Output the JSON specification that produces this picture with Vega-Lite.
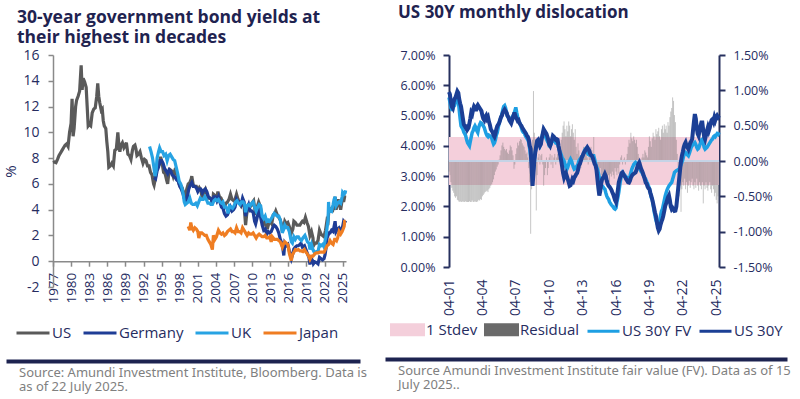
{
"$schema": "https://vega.github.io/schema/vega-lite/v6.json",
"background": "white",
"padding": {"left": 3, "top": 4, "right": 0, "bottom": 0},
"config": {"font": "Open Sans", "view": {"stroke": null}, "title": {"color": "#1f2350", "fontWeight": "bold", "font": "Open Sans"}, "axis": {"labelFont": "Open Sans", "titleFont": "Open Sans", "grid": false, "labelOverlap": false}, "legend": {"labelFont": "Open Sans"}},
"datasets": {
"US": [{"d":"1977-01","v":7.65},{"d":"1977-04","v":7.7},{"d":"1977-07","v":7.65},{"d":"1977-10","v":7.9},{"d":"1978-01","v":8.2},{"d":"1978-04","v":8.4},{"d":"1978-07","v":8.6},{"d":"1978-10","v":8.8},{"d":"1979-01","v":9.0},{"d":"1979-04","v":9.1},{"d":"1979-07","v":8.9},{"d":"1979-10","v":10.0},{"d":"1980-01","v":10.7},{"d":"1980-03","v":12.6},{"d":"1980-05","v":9.7},{"d":"1980-07","v":10.3},{"d":"1980-10","v":12.0},{"d":"1980-12","v":12.5},{"d":"1981-03","v":12.8},{"d":"1981-06","v":13.2},{"d":"1981-09","v":15.2},{"d":"1981-11","v":13.3},{"d":"1982-01","v":14.2},{"d":"1982-04","v":13.9},{"d":"1982-07","v":13.5},{"d":"1982-09","v":12.0},{"d":"1982-11","v":10.5},{"d":"1983-01","v":10.6},{"d":"1983-04","v":10.5},{"d":"1983-07","v":11.5},{"d":"1983-10","v":11.8},{"d":"1984-01","v":11.9},{"d":"1984-04","v":12.8},{"d":"1984-06","v":13.8},{"d":"1984-08","v":12.8},{"d":"1984-10","v":12.3},{"d":"1985-01","v":11.7},{"d":"1985-03","v":11.8},{"d":"1985-05","v":10.9},{"d":"1985-07","v":10.5},{"d":"1985-10","v":10.3},{"d":"1985-12","v":9.3},{"d":"1986-02","v":8.5},{"d":"1986-04","v":7.3},{"d":"1986-07","v":7.4},{"d":"1986-10","v":7.6},{"d":"1987-01","v":7.4},{"d":"1987-04","v":8.6},{"d":"1987-07","v":8.7},{"d":"1987-10","v":10.0},{"d":"1987-12","v":9.0},{"d":"1988-02","v":8.5},{"d":"1988-04","v":9.0},{"d":"1988-07","v":9.2},{"d":"1988-10","v":8.8},{"d":"1989-01","v":9.0},{"d":"1989-03","v":9.2},{"d":"1989-06","v":8.3},{"d":"1989-09","v":8.2},{"d":"1989-12","v":7.9},{"d":"1990-03","v":8.6},{"d":"1990-05","v":8.9},{"d":"1990-08","v":9.0},{"d":"1990-10","v":8.7},{"d":"1990-12","v":8.2},{"d":"1991-03","v":8.3},{"d":"1991-06","v":8.5},{"d":"1991-09","v":8.0},{"d":"1991-12","v":7.6},{"d":"1992-03","v":7.9},{"d":"1992-06","v":7.8},{"d":"1992-09","v":7.4},{"d":"1992-12","v":7.4},{"d":"1993-03","v":6.9},{"d":"1993-06","v":6.7},{"d":"1993-09","v":6.0},{"d":"1993-10","v":5.9},{"d":"1993-12","v":6.3},{"d":"1994-03","v":7.1},{"d":"1994-05","v":7.4},{"d":"1994-08","v":7.5},{"d":"1994-11","v":8.1},{"d":"1995-02","v":7.6},{"d":"1995-05","v":6.9},{"d":"1995-08","v":6.8},{"d":"1995-11","v":6.3},{"d":"1996-01","v":6.0},{"d":"1996-03","v":6.7},{"d":"1996-06","v":7.1},{"d":"1996-09","v":7.0},{"d":"1996-12","v":6.6},{"d":"1997-03","v":7.0},{"d":"1997-06","v":6.8},{"d":"1997-09","v":6.5},{"d":"1997-12","v":6.0},{"d":"1998-03","v":5.9},{"d":"1998-06","v":5.7},{"d":"1998-08","v":5.4},{"d":"1998-10","v":5.0},{"d":"1998-12","v":5.1},{"d":"1999-03","v":5.6},{"d":"1999-06","v":6.0},{"d":"1999-09","v":6.1},{"d":"1999-12","v":6.4},{"d":"2000-01","v":6.6},{"d":"2000-04","v":5.9},{"d":"2000-07","v":5.8},{"d":"2000-10","v":5.8},{"d":"2001-01","v":5.5},{"d":"2001-04","v":5.7},{"d":"2001-07","v":5.5},{"d":"2001-10","v":4.9},{"d":"2002-01","v":5.4},{"d":"2002-04","v":5.6},{"d":"2002-07","v":5.2},{"d":"2002-10","v":4.9},{"d":"2003-01","v":4.9},{"d":"2003-04","v":4.8},{"d":"2003-06","v":4.4},{"d":"2003-08","v":5.2},{"d":"2003-11","v":5.1},{"d":"2004-02","v":4.8},{"d":"2004-05","v":5.4},{"d":"2004-08","v":5.0},{"d":"2004-11","v":4.9},{"d":"2005-02","v":4.6},{"d":"2005-05","v":4.4},{"d":"2005-06","v":4.2},{"d":"2005-09","v":4.5},{"d":"2005-12","v":4.6},{"d":"2006-03","v":4.8},{"d":"2006-06","v":5.2},{"d":"2006-09","v":4.8},{"d":"2006-12","v":4.7},{"d":"2007-03","v":4.8},{"d":"2007-06","v":5.2},{"d":"2007-09","v":4.8},{"d":"2007-12","v":4.5},{"d":"2008-03","v":4.3},{"d":"2008-06","v":4.6},{"d":"2008-09","v":4.3},{"d":"2008-12","v":2.8},{"d":"2009-02","v":3.6},{"d":"2009-05","v":4.3},{"d":"2009-08","v":4.2},{"d":"2009-11","v":4.3},{"d":"2010-02","v":4.6},{"d":"2010-04","v":4.7},{"d":"2010-08","v":3.6},{"d":"2010-11","v":4.2},{"d":"2011-02","v":4.6},{"d":"2011-05","v":4.3},{"d":"2011-08","v":3.6},{"d":"2011-10","v":3.0},{"d":"2011-12","v":2.9},{"d":"2012-03","v":3.3},{"d":"2012-07","v":2.5},{"d":"2012-10","v":2.9},{"d":"2013-01","v":3.1},{"d":"2013-04","v":2.9},{"d":"2013-07","v":3.6},{"d":"2013-10","v":3.7},{"d":"2013-12","v":3.9},{"d":"2014-03","v":3.6},{"d":"2014-06","v":3.4},{"d":"2014-09","v":3.2},{"d":"2014-12","v":2.8},{"d":"2015-01","v":2.3},{"d":"2015-04","v":2.7},{"d":"2015-06","v":3.1},{"d":"2015-09","v":2.9},{"d":"2015-12","v":3.0},{"d":"2016-03","v":2.7},{"d":"2016-07","v":2.2},{"d":"2016-10","v":2.5},{"d":"2016-12","v":3.1},{"d":"2017-03","v":3.0},{"d":"2017-06","v":2.8},{"d":"2017-09","v":2.8},{"d":"2017-12","v":2.8},{"d":"2018-03","v":3.0},{"d":"2018-05","v":3.1},{"d":"2018-08","v":3.0},{"d":"2018-11","v":3.4},{"d":"2019-02","v":3.0},{"d":"2019-05","v":2.7},{"d":"2019-08","v":2.0},{"d":"2019-11","v":2.3},{"d":"2020-02","v":1.8},{"d":"2020-03","v":1.2},{"d":"2020-06","v":1.4},{"d":"2020-09","v":1.4},{"d":"2020-12","v":1.6},{"d":"2021-03","v":2.4},{"d":"2021-06","v":2.1},{"d":"2021-09","v":2.0},{"d":"2021-12","v":1.9},{"d":"2022-03","v":2.4},{"d":"2022-06","v":3.2},{"d":"2022-08","v":3.1},{"d":"2022-10","v":4.2},{"d":"2022-12","v":3.9},{"d":"2023-02","v":3.9},{"d":"2023-05","v":3.9},{"d":"2023-08","v":4.3},{"d":"2023-10","v":5.0},{"d":"2023-12","v":4.0},{"d":"2024-02","v":4.4},{"d":"2024-04","v":4.8},{"d":"2024-06","v":4.5},{"d":"2024-09","v":4.0},{"d":"2024-11","v":4.5},{"d":"2025-01","v":4.9},{"d":"2025-03","v":4.6},{"d":"2025-05","v":5.0},{"d":"2025-07","v":4.95}],
"DE": [{"d":"1993-10","v":6.5},{"d":"1994-01","v":6.4},{"d":"1994-04","v":7.0},{"d":"1994-07","v":7.3},{"d":"1994-10","v":7.8},{"d":"1995-01","v":7.8},{"d":"1995-04","v":7.6},{"d":"1995-07","v":7.2},{"d":"1995-10","v":7.0},{"d":"1996-01","v":6.8},{"d":"1996-04","v":7.1},{"d":"1996-07","v":7.0},{"d":"1996-10","v":6.7},{"d":"1997-01","v":6.6},{"d":"1997-04","v":6.5},{"d":"1997-07","v":6.3},{"d":"1997-10","v":6.2},{"d":"1998-01","v":5.8},{"d":"1998-04","v":5.6},{"d":"1998-07","v":5.3},{"d":"1998-10","v":4.9},{"d":"1999-01","v":4.7},{"d":"1999-04","v":4.9},{"d":"1999-07","v":5.6},{"d":"1999-10","v":5.9},{"d":"2000-01","v":6.1},{"d":"2000-04","v":5.8},{"d":"2000-07","v":5.8},{"d":"2000-10","v":5.7},{"d":"2001-01","v":5.4},{"d":"2001-04","v":5.6},{"d":"2001-07","v":5.6},{"d":"2001-10","v":5.3},{"d":"2002-01","v":5.5},{"d":"2002-04","v":5.6},{"d":"2002-07","v":5.4},{"d":"2002-10","v":5.0},{"d":"2003-01","v":4.9},{"d":"2003-04","v":4.8},{"d":"2003-06","v":4.5},{"d":"2003-09","v":5.0},{"d":"2003-12","v":5.0},{"d":"2004-03","v":4.7},{"d":"2004-06","v":5.0},{"d":"2004-09","v":4.6},{"d":"2004-12","v":4.2},{"d":"2005-03","v":4.1},{"d":"2005-06","v":3.7},{"d":"2005-09","v":3.5},{"d":"2005-12","v":3.6},{"d":"2006-03","v":3.9},{"d":"2006-06","v":4.2},{"d":"2006-09","v":3.9},{"d":"2006-12","v":4.0},{"d":"2007-03","v":4.2},{"d":"2007-06","v":4.8},{"d":"2007-09","v":4.6},{"d":"2007-12","v":4.6},{"d":"2008-03","v":4.4},{"d":"2008-06","v":4.9},{"d":"2008-09","v":4.6},{"d":"2008-12","v":3.5},{"d":"2009-03","v":4.1},{"d":"2009-06","v":4.4},{"d":"2009-09","v":3.9},{"d":"2009-12","v":3.9},{"d":"2010-03","v":3.8},{"d":"2010-06","v":3.1},{"d":"2010-08","v":2.9},{"d":"2010-11","v":3.4},{"d":"2011-02","v":3.9},{"d":"2011-05","v":3.6},{"d":"2011-09","v":2.8},{"d":"2011-12","v":2.4},{"d":"2012-03","v":2.5},{"d":"2012-06","v":2.1},{"d":"2012-09","v":2.3},{"d":"2012-12","v":2.2},{"d":"2013-03","v":2.3},{"d":"2013-06","v":2.6},{"d":"2013-09","v":2.8},{"d":"2013-12","v":2.7},{"d":"2014-03","v":2.5},{"d":"2014-06","v":2.2},{"d":"2014-09","v":1.7},{"d":"2014-12","v":1.4},{"d":"2015-02","v":1.0},{"d":"2015-04","v":0.45},{"d":"2015-06","v":1.4},{"d":"2015-09","v":1.2},{"d":"2015-12","v":1.3},{"d":"2016-03","v":0.8},{"d":"2016-07","v":0.2},{"d":"2016-10","v":0.6},{"d":"2016-12","v":0.95},{"d":"2017-03","v":1.1},{"d":"2017-06","v":1.2},{"d":"2017-09","v":1.2},{"d":"2017-12","v":1.3},{"d":"2018-02","v":1.4},{"d":"2018-05","v":1.1},{"d":"2018-09","v":1.2},{"d":"2018-12","v":0.9},{"d":"2019-03","v":0.6},{"d":"2019-06","v":0.3},{"d":"2019-08","v":-0.25},{"d":"2019-11","v":0.2},{"d":"2020-02","v":0.0},{"d":"2020-03","v":-0.2},{"d":"2020-06","v":-0.05},{"d":"2020-09","v":-0.1},{"d":"2020-12","v":-0.2},{"d":"2021-03","v":0.3},{"d":"2021-06","v":0.2},{"d":"2021-09","v":0.1},{"d":"2021-12","v":0.2},{"d":"2022-02","v":0.5},{"d":"2022-05","v":1.3},{"d":"2022-06","v":1.8},{"d":"2022-09","v":2.1},{"d":"2022-10","v":2.2},{"d":"2022-12","v":2.2},{"d":"2023-03","v":2.4},{"d":"2023-06","v":2.3},{"d":"2023-10","v":3.1},{"d":"2023-12","v":2.3},{"d":"2024-03","v":2.5},{"d":"2024-06","v":2.6},{"d":"2024-09","v":2.4},{"d":"2024-12","v":2.5},{"d":"2025-03","v":3.1},{"d":"2025-05","v":3.0},{"d":"2025-07","v":3.15}],
"UK": [{"d":"1993-01","v":8.9},{"d":"1993-04","v":8.5},{"d":"1993-07","v":8.0},{"d":"1993-10","v":7.2},{"d":"1993-12","v":6.6},{"d":"1994-02","v":7.0},{"d":"1994-04","v":8.0},{"d":"1994-07","v":8.5},{"d":"1994-09","v":8.8},{"d":"1994-12","v":8.5},{"d":"1995-03","v":8.5},{"d":"1995-06","v":8.2},{"d":"1995-09","v":8.3},{"d":"1995-12","v":7.8},{"d":"1996-03","v":8.2},{"d":"1996-06","v":8.3},{"d":"1996-09","v":8.1},{"d":"1996-12","v":7.9},{"d":"1997-03","v":7.8},{"d":"1997-06","v":7.3},{"d":"1997-09","v":6.8},{"d":"1997-12","v":6.2},{"d":"1998-03","v":6.0},{"d":"1998-06","v":5.6},{"d":"1998-08","v":5.2},{"d":"1998-10","v":4.6},{"d":"1998-12","v":4.4},{"d":"1999-03","v":4.5},{"d":"1999-06","v":4.6},{"d":"1999-09","v":4.9},{"d":"1999-12","v":4.5},{"d":"2000-03","v":4.4},{"d":"2000-06","v":4.4},{"d":"2000-09","v":4.5},{"d":"2000-12","v":4.3},{"d":"2001-03","v":4.6},{"d":"2001-06","v":4.9},{"d":"2001-09","v":4.8},{"d":"2001-12","v":4.8},{"d":"2002-03","v":5.0},{"d":"2002-06","v":4.8},{"d":"2002-09","v":4.5},{"d":"2002-12","v":4.5},{"d":"2003-03","v":4.4},{"d":"2003-06","v":4.4},{"d":"2003-09","v":4.7},{"d":"2003-12","v":4.8},{"d":"2004-03","v":4.7},{"d":"2004-06","v":4.8},{"d":"2004-09","v":4.6},{"d":"2004-12","v":4.5},{"d":"2005-03","v":4.6},{"d":"2005-06","v":4.2},{"d":"2005-09","v":4.2},{"d":"2005-12","v":4.0},{"d":"2006-01","v":3.7},{"d":"2006-04","v":4.3},{"d":"2006-07","v":4.2},{"d":"2006-10","v":4.1},{"d":"2007-01","v":4.3},{"d":"2007-04","v":4.6},{"d":"2007-07","v":4.7},{"d":"2007-10","v":4.5},{"d":"2008-01","v":4.4},{"d":"2008-04","v":4.6},{"d":"2008-07","v":4.6},{"d":"2008-10","v":4.4},{"d":"2008-12","v":3.8},{"d":"2009-03","v":4.3},{"d":"2009-06","v":4.4},{"d":"2009-09","v":4.3},{"d":"2009-12","v":4.5},{"d":"2010-03","v":4.6},{"d":"2010-06","v":4.2},{"d":"2010-09","v":3.9},{"d":"2010-12","v":4.2},{"d":"2011-03","v":4.4},{"d":"2011-06","v":4.3},{"d":"2011-09","v":3.5},{"d":"2011-12","v":3.3},{"d":"2012-03","v":3.5},{"d":"2012-06","v":3.1},{"d":"2012-09","v":3.2},{"d":"2012-12","v":3.1},{"d":"2013-03","v":3.3},{"d":"2013-06","v":3.5},{"d":"2013-09","v":3.7},{"d":"2013-12","v":3.6},{"d":"2014-03","v":3.5},{"d":"2014-06","v":3.5},{"d":"2014-09","v":3.2},{"d":"2014-12","v":2.5},{"d":"2015-01","v":2.2},{"d":"2015-04","v":2.5},{"d":"2015-06","v":2.8},{"d":"2015-09","v":2.6},{"d":"2015-12","v":2.6},{"d":"2016-03","v":2.3},{"d":"2016-07","v":1.5},{"d":"2016-09","v":1.4},{"d":"2016-12","v":1.9},{"d":"2017-03","v":1.7},{"d":"2017-06","v":1.9},{"d":"2017-09","v":1.9},{"d":"2017-12","v":1.7},{"d":"2018-03","v":1.6},{"d":"2018-06","v":1.8},{"d":"2018-10","v":2.0},{"d":"2018-12","v":1.8},{"d":"2019-03","v":1.5},{"d":"2019-06","v":1.4},{"d":"2019-08","v":0.9},{"d":"2019-11","v":1.3},{"d":"2020-02","v":0.9},{"d":"2020-03","v":0.8},{"d":"2020-06","v":0.6},{"d":"2020-09","v":0.75},{"d":"2020-12","v":0.75},{"d":"2021-03","v":1.3},{"d":"2021-06","v":1.2},{"d":"2021-09","v":1.3},{"d":"2021-12","v":1.1},{"d":"2022-02","v":1.6},{"d":"2022-04","v":1.9},{"d":"2022-06","v":2.6},{"d":"2022-08","v":3.2},{"d":"2022-09","v":4.6},{"d":"2022-10","v":3.9},{"d":"2022-12","v":4.0},{"d":"2023-03","v":3.9},{"d":"2023-06","v":4.4},{"d":"2023-08","v":4.8},{"d":"2023-10","v":5.0},{"d":"2023-12","v":4.3},{"d":"2024-03","v":4.5},{"d":"2024-06","v":4.6},{"d":"2024-09","v":4.5},{"d":"2024-12","v":5.0},{"d":"2025-01","v":5.35},{"d":"2025-04","v":5.2},{"d":"2025-06","v":5.3},{"d":"2025-07","v":5.5}],
"JP": [{"d":"1999-06","v":2.7},{"d":"1999-09","v":2.4},{"d":"1999-11","v":3.0},{"d":"2000-01","v":2.6},{"d":"2000-04","v":2.4},{"d":"2000-07","v":2.6},{"d":"2000-10","v":2.5},{"d":"2001-01","v":2.3},{"d":"2001-03","v":1.8},{"d":"2001-06","v":2.2},{"d":"2001-09","v":2.2},{"d":"2001-12","v":2.1},{"d":"2002-03","v":2.0},{"d":"2002-06","v":2.0},{"d":"2002-09","v":1.7},{"d":"2002-12","v":1.5},{"d":"2003-03","v":1.3},{"d":"2003-06","v":0.9},{"d":"2003-08","v":2.0},{"d":"2003-11","v":1.7},{"d":"2004-02","v":1.9},{"d":"2004-06","v":2.4},{"d":"2004-09","v":2.2},{"d":"2004-12","v":2.1},{"d":"2005-03","v":2.2},{"d":"2005-06","v":2.0},{"d":"2005-09","v":2.1},{"d":"2005-12","v":2.3},{"d":"2006-03","v":2.4},{"d":"2006-06","v":2.5},{"d":"2006-09","v":2.3},{"d":"2006-12","v":2.3},{"d":"2007-03","v":2.2},{"d":"2007-06","v":2.6},{"d":"2007-09","v":2.3},{"d":"2007-12","v":2.3},{"d":"2008-03","v":2.2},{"d":"2008-06","v":2.6},{"d":"2008-09","v":2.4},{"d":"2008-12","v":2.2},{"d":"2009-03","v":2.0},{"d":"2009-06","v":2.2},{"d":"2009-09","v":2.1},{"d":"2009-12","v":2.1},{"d":"2010-03","v":2.2},{"d":"2010-06","v":2.0},{"d":"2010-09","v":1.8},{"d":"2010-12","v":2.0},{"d":"2011-03","v":2.1},{"d":"2011-06","v":2.0},{"d":"2011-09","v":1.9},{"d":"2011-12","v":1.9},{"d":"2012-03","v":2.0},{"d":"2012-06","v":1.8},{"d":"2012-09","v":1.8},{"d":"2012-12","v":1.9},{"d":"2013-03","v":1.5},{"d":"2013-05","v":1.9},{"d":"2013-09","v":1.7},{"d":"2013-12","v":1.7},{"d":"2014-03","v":1.7},{"d":"2014-06","v":1.6},{"d":"2014-09","v":1.5},{"d":"2014-12","v":1.2},{"d":"2015-01","v":1.1},{"d":"2015-04","v":1.4},{"d":"2015-06","v":1.5},{"d":"2015-09","v":1.4},{"d":"2015-12","v":1.3},{"d":"2016-03","v":0.6},{"d":"2016-07","v":0.05},{"d":"2016-09","v":0.5},{"d":"2016-12","v":0.7},{"d":"2017-03","v":0.9},{"d":"2017-06","v":0.85},{"d":"2017-09","v":0.9},{"d":"2017-12","v":0.8},{"d":"2018-03","v":0.8},{"d":"2018-06","v":0.75},{"d":"2018-09","v":0.9},{"d":"2018-12","v":0.7},{"d":"2019-03","v":0.55},{"d":"2019-06","v":0.35},{"d":"2019-08","v":0.15},{"d":"2019-11","v":0.4},{"d":"2020-02","v":0.4},{"d":"2020-03","v":0.45},{"d":"2020-06","v":0.6},{"d":"2020-09","v":0.65},{"d":"2020-12","v":0.65},{"d":"2021-03","v":0.7},{"d":"2021-06","v":0.7},{"d":"2021-09","v":0.7},{"d":"2021-12","v":0.7},{"d":"2022-03","v":0.95},{"d":"2022-06","v":1.2},{"d":"2022-09","v":1.3},{"d":"2022-12","v":1.6},{"d":"2023-03","v":1.4},{"d":"2023-06","v":1.3},{"d":"2023-09","v":1.7},{"d":"2023-11","v":1.7},{"d":"2024-01","v":1.6},{"d":"2024-03","v":1.8},{"d":"2024-06","v":2.3},{"d":"2024-09","v":2.1},{"d":"2024-12","v":2.3},{"d":"2025-02","v":2.5},{"d":"2025-04","v":2.7},{"d":"2025-05","v":3.1},{"d":"2025-07","v":3.1}],
"us30": [
{"d":"2001-04","u":5.78,"f":5.6,"r":-0.15},{"d":"2001-05","u":5.7,"f":5.45,"r":-0.2},{"d":"2001-06","u":5.45,"f":5.25,"r":-0.3},{"d":"2001-07","u":5.3,"f":5.2,"r":-0.38},{"d":"2001-08","u":5.25,"f":5.2,"r":-0.42},{"d":"2001-09","u":5.45,"f":5.3,"r":-0.45},{"d":"2001-10","u":5.55,"f":5.33,"r":-0.5},{"d":"2001-11","u":5.6,"f":5.45,"r":-0.52},{"d":"2001-12","u":5.7,"f":5.6,"r":-0.5},
{"d":"2002-01","u":5.8,"f":5.66,"r":-0.55},{"d":"2002-02","u":5.75,"f":5.5,"r":-0.56},{"d":"2002-03","u":5.55,"f":5.2,"r":-0.58},{"d":"2002-04","u":5.4,"f":4.9,"r":-0.57},{"d":"2002-05","u":5.3,"f":4.66,"r":-0.58},{"d":"2002-06","u":5.1,"f":4.6,"r":-0.58},{"d":"2002-07","u":4.9,"f":4.55,"r":-0.57},{"d":"2002-08","u":4.7,"f":4.45,"r":-0.58},{"d":"2002-09","u":4.65,"f":4.4,"r":-0.58},{"d":"2002-10","u":4.6,"f":4.33,"r":-0.57},{"d":"2002-11","u":4.7,"f":4.2,"r":-0.58},{"d":"2002-12","u":4.55,"f":4.1,"r":-0.58},
{"d":"2003-01","u":4.6,"f":4.05,"r":-0.58},{"d":"2003-02","u":4.75,"f":4.0,"r":-0.57},{"d":"2003-03","u":4.9,"f":4.15,"r":-0.58},{"d":"2003-04","u":5.1,"f":4.3,"r":-0.58},{"d":"2003-05","u":5.05,"f":4.44,"r":-0.56},{"d":"2003-06","u":5.2,"f":4.5,"r":-0.58},{"d":"2003-07","u":5.3,"f":4.6,"r":-0.58},{"d":"2003-08","u":5.25,"f":4.66,"r":-0.57},{"d":"2003-09","u":5.15,"f":4.6,"r":-0.58},{"d":"2003-10","u":5.3,"f":4.5,"r":-0.58},{"d":"2003-11","u":5.35,"f":4.44,"r":-0.57},{"d":"2003-12","u":5.3,"f":4.6,"r":-0.55},
{"d":"2004-01","u":5.25,"f":4.7,"r":-0.56},{"d":"2004-02","u":5.2,"f":4.77,"r":-0.54},{"d":"2004-03","u":5.15,"f":4.75,"r":-0.55},{"d":"2004-04","u":5.0,"f":4.7,"r":-0.5},{"d":"2004-05","u":4.9,"f":4.66,"r":-0.48},{"d":"2004-06","u":4.85,"f":4.6,"r":-0.46},{"d":"2004-07","u":4.95,"f":4.5,"r":-0.44},{"d":"2004-08","u":5.0,"f":4.4,"r":-0.43},{"d":"2004-09","u":4.9,"f":4.33,"r":-0.42},{"d":"2004-10","u":4.95,"f":4.3,"r":-0.44},{"d":"2004-11","u":4.8,"f":4.35,"r":-0.4},{"d":"2004-12","u":4.7,"f":4.33,"r":-0.38},
{"d":"2005-01","u":4.55,"f":4.3,"r":-0.35},{"d":"2005-02","u":4.5,"f":4.25,"r":-0.33},{"d":"2005-03","u":4.45,"f":4.15,"r":-0.3},{"d":"2005-04","u":4.35,"f":4.06,"r":-0.26},{"d":"2005-05","u":4.3,"f":4.1,"r":-0.2},{"d":"2005-06","u":4.4,"f":4.2,"r":-0.15},{"d":"2005-07","u":4.55,"f":4.35,"r":-0.12},{"d":"2005-08","u":4.65,"f":4.44,"r":-0.08},{"d":"2005-09","u":4.7,"f":4.6,"r":-0.05},{"d":"2005-10","u":4.75,"f":4.75,"r":0.02},{"d":"2005-11","u":4.85,"f":4.85,"r":0.08},{"d":"2005-12","u":4.95,"f":4.94,"r":0.15},
{"d":"2006-01","u":5.0,"f":5.05,"r":0.22},{"d":"2006-02","u":5.1,"f":5.2,"r":0.26},{"d":"2006-03","u":5.15,"f":5.3,"r":0.2},{"d":"2006-04","u":5.2,"f":5.33,"r":0.17},{"d":"2006-05","u":5.15,"f":5.25,"r":0.15},{"d":"2006-06","u":5.1,"f":5.1,"r":0.17},{"d":"2006-07","u":5.0,"f":4.98,"r":0.12},{"d":"2006-08","u":4.95,"f":4.94,"r":0.1},{"d":"2006-09","u":4.85,"f":4.9,"r":0.15},{"d":"2006-10","u":4.8,"f":4.88,"r":0.22},{"d":"2006-11","u":4.75,"f":4.9,"r":0.2},{"d":"2006-12","u":4.85,"f":4.95,"r":0.15},
{"d":"2007-01","u":4.95,"f":5.0,"r":0.08},{"d":"2007-02","u":5.05,"f":5.05,"r":-0.11},{"d":"2007-03","u":5.05,"f":5.15,"r":-0.05},{"d":"2007-04","u":4.95,"f":5.27,"r":0.1},{"d":"2007-05","u":4.9,"f":5.1,"r":0.18},{"d":"2007-06","u":4.83,"f":4.95,"r":0.26},{"d":"2007-07","u":4.85,"f":4.8,"r":0.22},{"d":"2007-08","u":4.75,"f":4.77,"r":0.28},{"d":"2007-09","u":4.7,"f":4.7,"r":0.31},{"d":"2007-10","u":4.66,"f":4.6,"r":0.3},{"d":"2007-11","u":4.6,"f":4.5,"r":0.25},{"d":"2007-12","u":4.55,"f":4.45,"r":0.22},
{"d":"2008-01","u":4.5,"f":4.44,"r":0.2},{"d":"2008-02","u":4.45,"f":4.35,"r":0.15},{"d":"2008-03","u":4.4,"f":4.3,"r":0.1},{"d":"2008-04","u":4.33,"f":4.25,"r":0.12},{"d":"2008-05","u":4.3,"f":4.2,"r":0.05},{"d":"2008-06","u":4.2,"f":4.11,"r":-0.1},{"d":"2008-07","u":4.0,"f":3.9,"r":-0.3},{"d":"2008-08","u":3.9,"f":3.6,"r":-1.03},{"d":"2008-09","u":3.3,"f":3.45,"r":-0.4},{"d":"2008-10","u":2.68,"f":3.3,"r":0.3},{"d":"2008-11","u":3.1,"f":3.23,"r":0.99},{"d":"2008-12","u":3.56,"f":3.5,"r":0.4},
{"d":"2009-01","u":3.8,"f":3.8,"r":0.1},{"d":"2009-02","u":4.0,"f":3.95,"r":-0.7},{"d":"2009-03","u":4.17,"f":4.11,"r":-0.2},{"d":"2009-04","u":4.2,"f":4.1,"r":0.05},{"d":"2009-05","u":4.1,"f":4.05,"r":0.1},{"d":"2009-06","u":4.0,"f":4.0,"r":-0.05},{"d":"2009-07","u":4.05,"f":4.1,"r":0.08},{"d":"2009-08","u":4.25,"f":4.25,"r":0.1},{"d":"2009-09","u":4.4,"f":4.4,"r":-0.05},{"d":"2009-10","u":4.55,"f":4.5,"r":-0.35},{"d":"2009-11","u":4.5,"f":4.4,"r":-0.2},{"d":"2009-12","u":4.45,"f":4.3,"r":-0.1},
{"d":"2010-01","u":4.4,"f":4.22,"r":0.05},{"d":"2010-02","u":4.3,"f":4.15,"r":-0.2},{"d":"2010-03","u":4.2,"f":4.1,"r":-0.1},{"d":"2010-04","u":4.05,"f":4.0,"r":0.05},{"d":"2010-05","u":4.0,"f":4.0,"r":0.1},{"d":"2010-06","u":4.1,"f":4.05,"r":-0.05},{"d":"2010-07","u":4.2,"f":4.15,"r":0.08},{"d":"2010-08","u":4.33,"f":4.22,"r":-0.1},{"d":"2010-09","u":4.3,"f":4.2,"r":0.05},{"d":"2010-10","u":4.25,"f":4.15,"r":0.1},{"d":"2010-11","u":4.2,"f":4.1,"r":-0.05},{"d":"2010-12","u":4.22,"f":4.11,"r":0.05},
{"d":"2011-01","u":4.2,"f":4.05,"r":0.1},{"d":"2011-02","u":4.0,"f":3.95,"r":0.05},{"d":"2011-03","u":3.85,"f":3.85,"r":0.12},{"d":"2011-04","u":3.67,"f":3.78,"r":0.2},{"d":"2011-05","u":3.5,"f":3.7,"r":0.3},{"d":"2011-06","u":3.3,"f":3.6,"r":0.4},{"d":"2011-07","u":3.1,"f":3.56,"r":0.5},{"d":"2011-08","u":2.96,"f":3.5,"r":0.56},{"d":"2011-09","u":3.05,"f":3.4,"r":0.45},{"d":"2011-10","u":3.1,"f":3.3,"r":0.35},{"d":"2011-11","u":3.0,"f":3.23,"r":0.5},{"d":"2011-12","u":2.9,"f":3.3,"r":0.42},
{"d":"2012-01","u":2.8,"f":3.4,"r":0.56},{"d":"2012-02","u":2.68,"f":3.5,"r":0.5},{"d":"2012-03","u":2.7,"f":3.56,"r":0.35},{"d":"2012-04","u":2.8,"f":3.5,"r":0.45},{"d":"2012-05","u":2.9,"f":3.4,"r":0.52},{"d":"2012-06","u":2.85,"f":3.3,"r":0.4},{"d":"2012-07","u":2.95,"f":3.23,"r":0.3},{"d":"2012-08","u":3.0,"f":3.25,"r":0.45},{"d":"2012-09","u":3.06,"f":3.3,"r":0.2},{"d":"2012-10","u":3.1,"f":3.34,"r":0.1},{"d":"2012-11","u":3.2,"f":3.4,"r":0.25},{"d":"2012-12","u":3.35,"f":3.5,"r":0.15},
{"d":"2013-01","u":3.4,"f":3.56,"r":0.05},{"d":"2013-02","u":3.5,"f":3.6,"r":-0.1},{"d":"2013-03","u":3.6,"f":3.65,"r":0.1},{"d":"2013-04","u":3.67,"f":3.67,"r":0.05},{"d":"2013-05","u":3.75,"f":3.75,"r":0.2},{"d":"2013-06","u":3.8,"f":3.85,"r":0.15},{"d":"2013-07","u":3.85,"f":3.89,"r":0.1},{"d":"2013-08","u":3.9,"f":3.85,"r":0.2},{"d":"2013-09","u":3.95,"f":3.78,"r":0.05},{"d":"2013-10","u":3.9,"f":3.72,"r":-0.05},{"d":"2013-11","u":3.85,"f":3.7,"r":0.1},{"d":"2013-12","u":3.75,"f":3.69,"r":0.1},
{"d":"2014-01","u":3.7,"f":3.68,"r":0.2},{"d":"2014-02","u":3.67,"f":3.67,"r":0.15},{"d":"2014-03","u":3.6,"f":3.67,"r":0.1},{"d":"2014-04","u":3.5,"f":3.67,"r":0.34},{"d":"2014-05","u":3.4,"f":3.55,"r":0.05},{"d":"2014-06","u":3.35,"f":3.4,"r":-0.1},{"d":"2014-07","u":3.2,"f":3.3,"r":-0.15},{"d":"2014-08","u":2.9,"f":3.23,"r":-0.2},{"d":"2014-09","u":2.6,"f":3.1,"r":-0.25},{"d":"2014-10","u":2.36,"f":2.95,"r":-0.15},{"d":"2014-11","u":2.5,"f":2.8,"r":-0.1},{"d":"2014-12","u":2.75,"f":2.7,"r":-0.2},
{"d":"2015-01","u":2.9,"f":2.68,"r":-0.3},{"d":"2015-02","u":2.95,"f":2.65,"r":-0.2},{"d":"2015-03","u":3.0,"f":2.6,"r":-0.25},{"d":"2015-04","u":3.07,"f":2.57,"r":-0.15},{"d":"2015-05","u":3.0,"f":2.45,"r":-0.2},{"d":"2015-06","u":2.85,"f":2.35,"r":-0.28},{"d":"2015-07","u":2.75,"f":2.28,"r":-0.25},{"d":"2015-08","u":2.68,"f":2.24,"r":-0.2},{"d":"2015-09","u":2.65,"f":2.15,"r":-0.3},{"d":"2015-10","u":2.6,"f":2.1,"r":-0.18},{"d":"2015-11","u":2.55,"f":2.05,"r":-0.22},{"d":"2015-12","u":2.47,"f":2.02,"r":-0.15},
{"d":"2016-01","u":2.4,"f":1.98,"r":-0.2},{"d":"2016-02","u":2.3,"f":1.93,"r":-0.25},{"d":"2016-03","u":2.2,"f":1.91,"r":-0.1},{"d":"2016-04","u":2.14,"f":1.95,"r":-0.15},{"d":"2016-05","u":2.3,"f":2.15,"r":-0.2},{"d":"2016-06","u":2.55,"f":2.3,"r":-0.1},{"d":"2016-07","u":2.79,"f":2.47,"r":-0.18},{"d":"2016-08","u":2.9,"f":2.7,"r":-0.05},{"d":"2016-09","u":3.0,"f":2.9,"r":0.05},{"d":"2016-10","u":3.1,"f":3.05,"r":0.08},{"d":"2016-11","u":3.12,"f":3.12,"r":-0.05},{"d":"2016-12","u":3.05,"f":3.08,"r":0.02},
{"d":"2017-01","u":3.0,"f":3.05,"r":0.05},{"d":"2017-02","u":2.96,"f":3.01,"r":-0.05},{"d":"2017-03","u":2.9,"f":2.98,"r":0.02},{"d":"2017-04","u":2.85,"f":2.95,"r":0.1},{"d":"2017-05","u":2.8,"f":2.92,"r":0.2},{"d":"2017-06","u":2.79,"f":2.9,"r":0.3},{"d":"2017-07","u":2.85,"f":3.0,"r":0.25},{"d":"2017-08","u":2.95,"f":3.12,"r":0.4},{"d":"2017-09","u":3.01,"f":3.23,"r":0.32},{"d":"2017-10","u":3.05,"f":3.3,"r":0.28},{"d":"2017-11","u":3.08,"f":3.38,"r":0.35},{"d":"2017-12","u":3.1,"f":3.42,"r":0.3},
{"d":"2018-01","u":3.12,"f":3.45,"r":0.25},{"d":"2018-02","u":3.2,"f":3.42,"r":0.3},{"d":"2018-03","u":3.3,"f":3.38,"r":0.2},{"d":"2018-04","u":3.4,"f":3.34,"r":0.1},{"d":"2018-05","u":3.45,"f":3.3,"r":0.05},{"d":"2018-06","u":3.35,"f":3.22,"r":0.02},{"d":"2018-07","u":3.25,"f":3.15,"r":-0.05},{"d":"2018-08","u":3.18,"f":3.12,"r":0.05},{"d":"2018-09","u":3.1,"f":3.05,"r":0.1},{"d":"2018-10","u":3.0,"f":3.0,"r":0.05},{"d":"2018-11","u":2.9,"f":2.95,"r":0.15},{"d":"2018-12","u":2.79,"f":2.9,"r":0.12},
{"d":"2019-01","u":2.75,"f":2.82,"r":0.08},{"d":"2019-02","u":2.65,"f":2.75,"r":0.05},{"d":"2019-03","u":2.6,"f":2.68,"r":0.2},{"d":"2019-04","u":2.57,"f":2.6,"r":0.35},{"d":"2019-05","u":2.45,"f":2.45,"r":0.28},{"d":"2019-06","u":2.35,"f":2.3,"r":0.2},{"d":"2019-07","u":2.24,"f":2.24,"r":0.32},{"d":"2019-08","u":2.1,"f":2.05,"r":0.4},{"d":"2019-09","u":1.95,"f":1.85,"r":0.35},{"d":"2019-10","u":1.8,"f":1.69,"r":0.3},{"d":"2019-11","u":1.69,"f":1.55,"r":0.45},{"d":"2019-12","u":1.5,"f":1.45,"r":0.38},
{"d":"2020-01","u":1.3,"f":1.38,"r":0.42},{"d":"2020-02","u":1.2,"f":1.36,"r":0.47},{"d":"2020-03","u":1.25,"f":1.5,"r":0.35},{"d":"2020-04","u":1.4,"f":1.7,"r":0.3},{"d":"2020-05","u":1.5,"f":1.85,"r":0.45},{"d":"2020-06","u":1.58,"f":1.91,"r":0.5},{"d":"2020-07","u":1.7,"f":2.05,"r":0.4},{"d":"2020-08","u":1.85,"f":2.2,"r":0.52},{"d":"2020-09","u":2.02,"f":2.35,"r":0.45},{"d":"2020-10","u":2.1,"f":2.45,"r":0.5},{"d":"2020-11","u":2.2,"f":2.55,"r":0.4},{"d":"2020-12","u":2.3,"f":2.62,"r":0.55},
{"d":"2021-01","u":2.36,"f":2.68,"r":0.5},{"d":"2021-02","u":2.2,"f":2.72,"r":0.62},{"d":"2021-03","u":2.0,"f":2.76,"r":0.7},{"d":"2021-04","u":1.91,"f":2.79,"r":0.75},{"d":"2021-05","u":1.95,"f":2.9,"r":0.9},{"d":"2021-06","u":1.9,"f":3.0,"r":0.85},{"d":"2021-07","u":1.85,"f":3.12,"r":0.65},{"d":"2021-08","u":1.86,"f":3.15,"r":0.55},{"d":"2021-09","u":2.0,"f":3.18,"r":0.3},{"d":"2021-10","u":2.3,"f":3.2,"r":0.1},{"d":"2021-11","u":2.6,"f":3.22,"r":-0.2},{"d":"2021-12","u":2.9,"f":3.23,"r":-0.5},
{"d":"2022-01","u":3.2,"f":3.3,"r":-0.35},{"d":"2022-02","u":3.5,"f":3.38,"r":-0.72},{"d":"2022-03","u":3.67,"f":3.45,"r":-0.4},{"d":"2022-04","u":3.8,"f":3.55,"r":-0.3},{"d":"2022-05","u":3.95,"f":3.67,"r":-0.35},{"d":"2022-06","u":4.05,"f":3.75,"r":-0.25},{"d":"2022-07","u":4.11,"f":3.78,"r":-0.4},{"d":"2022-08","u":4.0,"f":3.75,"r":-0.3},{"d":"2022-09","u":3.95,"f":3.7,"r":-0.45},{"d":"2022-10","u":3.89,"f":3.67,"r":-0.35},{"d":"2022-11","u":4.0,"f":3.75,"r":-0.28},{"d":"2022-12","u":4.1,"f":3.85,"r":-0.38},
{"d":"2023-01","u":4.15,"f":3.95,"r":-0.3},{"d":"2023-02","u":4.22,"f":4.0,"r":-0.25},{"d":"2023-03","u":4.5,"f":4.05,"r":-0.35},{"d":"2023-04","u":4.8,"f":4.08,"r":-0.4},{"d":"2023-05","u":5.05,"f":4.11,"r":-0.3},{"d":"2023-06","u":4.9,"f":4.05,"r":-0.38},{"d":"2023-07","u":4.6,"f":3.95,"r":-0.25},{"d":"2023-08","u":4.4,"f":3.89,"r":-0.35},{"d":"2023-09","u":4.33,"f":3.92,"r":-0.42},{"d":"2023-10","u":4.5,"f":4.0,"r":-0.3},{"d":"2023-11","u":4.65,"f":4.1,"r":-0.35},{"d":"2023-12","u":4.77,"f":4.2,"r":-0.4},
{"d":"2024-01","u":4.77,"f":4.22,"r":-0.3},{"d":"2024-02","u":4.5,"f":4.1,"r":-0.6},{"d":"2024-03","u":4.3,"f":3.95,"r":-0.35},{"d":"2024-04","u":4.22,"f":3.89,"r":-0.4},{"d":"2024-05","u":4.35,"f":3.92,"r":-0.3},{"d":"2024-06","u":4.5,"f":3.95,"r":-0.38},{"d":"2024-07","u":4.61,"f":4.0,"r":-0.42},{"d":"2024-08","u":4.5,"f":4.05,"r":-0.35},{"d":"2024-09","u":4.6,"f":4.1,"r":-0.3},{"d":"2024-10","u":4.75,"f":4.15,"r":-0.4},{"d":"2024-11","u":4.85,"f":4.2,"r":-0.45},{"d":"2024-12","u":4.88,"f":4.22,"r":-0.35},
{"d":"2025-01","u":4.8,"f":4.3,"r":-0.4},{"d":"2025-02","u":4.94,"f":4.33,"r":-0.5},{"d":"2025-03","u":4.85,"f":4.3,"r":-0.45},{"d":"2025-04","u":4.95,"f":4.35,"r":-0.55},{"d":"2025-05","u":5.0,"f":4.4,"r":-0.6},{"d":"2025-06","u":4.95,"f":4.38,"r":-0.5},{"d":"2025-07","u":5.0,"f":4.45,"r":-0.7}
]
},
"spacing": -22,
"resolve": {"scale": {"x": "independent", "y": "independent", "color": "independent"}, "legend": {"color": "independent"}},
"hconcat": [
{"spacing": 14, "resolve": {"scale": {"x": "independent", "y": "independent", "color": "independent"}, "axis": {"x": "independent"}},
 "vconcat": [
 {"width": 293, "height": 232,
  "title": {"text": ["30-year government bond yields at", "their highest in decades"], "anchor": "start", "frame": "bounds", "dx": 13, "offset": 2, "fontSize": 17.5, "lineHeight": 20},
  "encoding": {
   "x": {"field": "d", "type": "temporal", "scale": {"type": "utc", "domain": [{"year":1977,"month":1,"date":1,"utc":true},{"year":2025,"month":7,"date":22,"utc":true}]},
     "axis": {"values": [{"year":1977,"utc":true},{"year":1980,"utc":true},{"year":1983,"utc":true},{"year":1986,"utc":true},{"year":1989,"utc":true},{"year":1992,"utc":true},{"year":1995,"utc":true},{"year":1998,"utc":true},{"year":2001,"utc":true},{"year":2004,"utc":true},{"year":2007,"utc":true},{"year":2010,"utc":true},{"year":2013,"utc":true},{"year":2016,"utc":true},{"year":2019,"utc":true},{"year":2022,"utc":true},{"year":2025,"utc":true}],
       "format": "%Y", "labelAngle": -90, "labelFontSize": 13.5, "labelColor": "#262c5f", "domainColor": "#8a8a8a", "domainWidth": 1.5, "tickColor": "#8a8a8a", "tickWidth": 1.5, "tickSize": 5, "labelPadding": 6, "offset": -25.8, "title": null, "labelOverlap": false, "labelBound": false}},
   "y": {"field": "v", "type": "quantitative", "scale": {"domain": [-2, 16], "nice": false, "zero": false},
     "axis": {"values": [-2,0,2,4,6,8,10,12,14,16], "labelExpr": "datum.value < 0 ? '-' + abs(datum.value) : '' + datum.value", "title": "%", "titleFontSize": 15, "titleFontWeight": "normal", "titleColor": "#262c5f", "titlePadding": 4, "labelFontSize": 14, "labelColor": "#262c5f", "domainColor": "#8a8a8a", "domainWidth": 1.5, "tickColor": "#8a8a8a", "tickWidth": 1.5, "tickSize": 5, "labelPadding": 9, "labelOverlap": false}}
  },
  "layer": [
   {"data": {"name": "US", "format": {"parse": {"d": "utc:'%Y-%m'"}}}, "mark": {"type": "line", "strokeWidth": 3.2},
    "encoding": {"color": {"datum": "US", "type": "nominal", "scale": {"domain": ["US","Germany","UK","Japan"], "range": ["#5a5a5a","#1f3d96","#27a3e3","#ef7d22"]},
      "legend": {"orient": "none", "legendX": -38, "legendY": 260, "direction": "horizontal", "title": null, "symbolType": "M-1,0H1", "symbolSize": 1089, "symbolStrokeWidth": 3, "labelFontSize": 15, "labelColor": "#262c5f", "labelOffset": 1, "columnPadding": 5, "labelLimit": 200}}}},
   {"data": {"name": "DE", "format": {"parse": {"d": "utc:'%Y-%m'"}}}, "mark": {"type": "line", "strokeWidth": 3.2}, "encoding": {"color": {"datum": "Germany", "type": "nominal"}}},
   {"data": {"name": "UK", "format": {"parse": {"d": "utc:'%Y-%m'"}}}, "mark": {"type": "line", "strokeWidth": 3.2}, "encoding": {"color": {"datum": "UK", "type": "nominal"}}},
   {"data": {"name": "JP", "format": {"parse": {"d": "utc:'%Y-%m'"}}}, "mark": {"type": "line", "strokeWidth": 3.2}, "encoding": {"color": {"datum": "Japan", "type": "nominal"}}}
  ]
 },
 {"width": 307, "height": 1, "data": {"values": [{}]}, "mark": {"type": "text", "text": ""},
  "encoding": {"x": {"datum": 0, "type": "quantitative", "scale": {"domain": [0, 1], "range": [-47, 307]}, "axis": {"orient": "top", "domainColor": "#1d2350", "domainWidth": 4, "labels": false, "ticks": false, "title": null, "grid": false}}},
  "title": {"text": ["Source: Amundi Investment Institute, Bloomberg. Data is", "as of 22 July 2025."], "orient": "bottom", "anchor": "start", "frame": "group", "dx": -34, "offset": 0, "fontSize": 13, "fontWeight": "normal", "color": "#808080", "lineHeight": 14, "font": "Noto Sans"}}
]},
{"spacing": 12, "resolve": {"scale": {"x": "independent", "y": "independent", "color": "independent"}, "axis": {"x": "independent"}},
 "vconcat": [
 {"width": 270, "height": 212,
  "title": {"text": "US 30Y monthly dislocation", "anchor": "start", "frame": "bounds", "dx": 8, "offset": 27, "fontSize": 17},
  "data": {"name": "us30", "format": {"parse": {"d": "utc:'%Y-%m'"}}},
  "layer": [
   {"layer": [
     {"data": {"values": [{"k": "1 Stdev", "lo": -0.34, "hi": 0.34}]}, "mark": {"type": "rect"},
      "encoding": {
       "y": {"field": "lo", "type": "quantitative", "scale": {"domain": [-1.5, 1.5], "nice": false, "zero": false},
         "axis": {"orient": "right", "values": [-1.5,-1,-0.5,0,0.5,1,1.5], "labelExpr": "(datum.value < 0 ? '-' : '') + format(abs(datum.value), '.2f') + '%'", "title": null, "labelFontSize": 12.5, "labelColor": "#262c5f", "domainColor": "#26305e", "domainWidth": 2, "tickColor": "#26305e", "tickWidth": 2, "tickSize": 6, "labelPadding": 8, "labelOverlap": false}},
       "y2": {"field": "hi"},
       "color": {"field": "k", "type": "nominal", "scale": {"domain": ["1 Stdev","Residual","US 30Y FV","US 30Y"], "range": ["#f4cfdb","#6a6a6a","#1e9fe3","#1b3f95"]},
         "legend": {"orient": "none", "legendX": -59, "legendY": 257, "direction": "horizontal", "title": null, "symbolSize": 1024, "labelFontSize": 15, "labelColor": "#262c5f", "labelOffset": 1, "columnPadding": 1, "labelLimit": 200,
           "encode": {"symbols": {"update": {
             "shape": {"signal": "datum.value == '1 Stdev' || datum.value == 'Residual' ? 'M-1,-0.31H1V0.31H-1Z' : 'M-1,0H1'"},
             "fill": {"signal": "datum.value == '1 Stdev' ? '#f4cfdb' : datum.value == 'Residual' ? '#6a6a6a' : 'transparent'"},
             "stroke": {"signal": "datum.value == 'US 30Y FV' ? '#1e9fe3' : datum.value == 'US 30Y' ? '#1b3f95' : 'transparent'"},
             "strokeWidth": {"value": 3}, "opacity": {"value": 1}, "fillOpacity": {"value": 1}, "strokeOpacity": {"value": 1}}}}}}
      }},
     {"mark": {"type": "rule", "strokeWidth": 1, "opacity": 0.38},
      "encoding": {
       "x": {"field": "d", "type": "temporal", "scale": {"type": "utc", "domain": [{"year":2001,"month":4,"date":1,"utc":true},{"year":2025,"month":7,"date":1,"utc":true}]},
         "axis": {"values": [{"year":2001,"month":4,"date":1,"utc":true},{"year":2004,"month":4,"date":1,"utc":true},{"year":2007,"month":4,"date":1,"utc":true},{"year":2010,"month":4,"date":1,"utc":true},{"year":2013,"month":4,"date":1,"utc":true},{"year":2016,"month":4,"date":1,"utc":true},{"year":2019,"month":4,"date":1,"utc":true},{"year":2022,"month":4,"date":1,"utc":true},{"year":2025,"month":4,"date":1,"utc":true}],
           "format": "%m-%y", "labelAngle": -90, "labelFontSize": 14, "labelColor": "#262c5f", "domain": false, "ticks": false, "labelPadding": 12, "title": null, "labelOverlap": false, "labelBound": false}},
       "y": {"field": "r", "type": "quantitative", "axis": {"orient": "right", "values": [-1.5,-1,-0.5,0,0.5,1,1.5], "labelExpr": "(datum.value < 0 ? '-' : '') + format(abs(datum.value), '.2f') + '%'", "title": null, "labelFontSize": 12.5, "labelColor": "#262c5f", "domainColor": "#26305e", "domainWidth": 2, "tickColor": "#26305e", "tickWidth": 2, "tickSize": 6, "labelPadding": 8, "labelOverlap": false}},
       "y2": {"datum": 0},
       "color": {"datum": "Residual"}}},
     {"data": {"values": [{}]}, "mark": {"type": "rule", "color": "#c5d3e6", "strokeWidth": 2}, "encoding": {"y": {"datum": 0, "axis": {"orient": "right", "values": [-1.5,-1,-0.5,0,0.5,1,1.5], "labelExpr": "(datum.value < 0 ? '-' : '') + format(abs(datum.value), '.2f') + '%'", "title": null, "labelFontSize": 12.5, "labelColor": "#262c5f", "domainColor": "#26305e", "domainWidth": 2, "tickColor": "#26305e", "tickWidth": 2, "tickSize": 6, "labelPadding": 8, "labelOverlap": false}}}}
   ]},
   {"layer": [
     {"mark": {"type": "line", "strokeWidth": 3.5},
      "encoding": {
       "x": {"field": "d", "type": "temporal", "axis": {"values": [{"year":2001,"month":4,"date":1,"utc":true},{"year":2004,"month":4,"date":1,"utc":true},{"year":2007,"month":4,"date":1,"utc":true},{"year":2010,"month":4,"date":1,"utc":true},{"year":2013,"month":4,"date":1,"utc":true},{"year":2016,"month":4,"date":1,"utc":true},{"year":2019,"month":4,"date":1,"utc":true},{"year":2022,"month":4,"date":1,"utc":true},{"year":2025,"month":4,"date":1,"utc":true}],
           "format": "%m-%y", "labelAngle": -90, "labelFontSize": 14, "labelColor": "#262c5f", "domain": false, "ticks": false, "labelPadding": 12, "title": null, "labelOverlap": false, "labelBound": false}},
       "y": {"field": "f", "type": "quantitative", "scale": {"domain": [0, 7], "nice": false},
         "axis": {"orient": "left", "values": [0,1,2,3,4,5,6,7], "labelExpr": "format(datum.value, '.2f') + '%'", "title": null, "labelFontSize": 12.5, "labelColor": "#262c5f", "domainColor": "#26305e", "domainWidth": 2, "tickColor": "#26305e", "tickWidth": 2, "tickSize": 6, "labelPadding": 8, "labelOverlap": false}},
       "color": {"datum": "US 30Y FV"}}},
     {"mark": {"type": "line", "strokeWidth": 4},
      "encoding": {
       "x": {"field": "d", "type": "temporal", "axis": {"values": [{"year":2001,"month":4,"date":1,"utc":true},{"year":2004,"month":4,"date":1,"utc":true},{"year":2007,"month":4,"date":1,"utc":true},{"year":2010,"month":4,"date":1,"utc":true},{"year":2013,"month":4,"date":1,"utc":true},{"year":2016,"month":4,"date":1,"utc":true},{"year":2019,"month":4,"date":1,"utc":true},{"year":2022,"month":4,"date":1,"utc":true},{"year":2025,"month":4,"date":1,"utc":true}],
           "format": "%m-%y", "labelAngle": -90, "labelFontSize": 14, "labelColor": "#262c5f", "domain": false, "ticks": false, "labelPadding": 12, "title": null, "labelOverlap": false, "labelBound": false}},
       "y": {"field": "u", "type": "quantitative", "axis": {"orient": "left", "values": [0,1,2,3,4,5,6,7], "labelExpr": "format(datum.value, '.2f') + '%'", "title": null, "labelFontSize": 12.5, "labelColor": "#262c5f", "domainColor": "#26305e", "domainWidth": 2, "tickColor": "#26305e", "tickWidth": 2, "tickSize": 6, "labelPadding": 8, "labelOverlap": false}},
       "color": {"datum": "US 30Y"}}}
   ]}
  ],
  "resolve": {"scale": {"y": "independent"}, "axis": {"y": "independent"}}
 },
 {"width": 338, "height": 1, "data": {"values": [{}]}, "mark": {"type": "text", "text": ""},
  "encoding": {"x": {"datum": 0, "type": "quantitative", "scale": {"domain": [0, 1], "range": [-64, 338]}, "axis": {"orient": "top", "domainColor": "#1d2350", "domainWidth": 4, "labels": false, "ticks": false, "title": null, "grid": false}}},
  "title": {"text": ["Source Amundi Investment Institute fair value (FV). Data as of 15", "July 2025.."], "orient": "bottom", "anchor": "start", "frame": "group", "dx": -51, "offset": 0, "fontSize": 13, "fontWeight": "normal", "color": "#808080", "lineHeight": 14, "font": "Noto Sans"}}
]}
]
}
